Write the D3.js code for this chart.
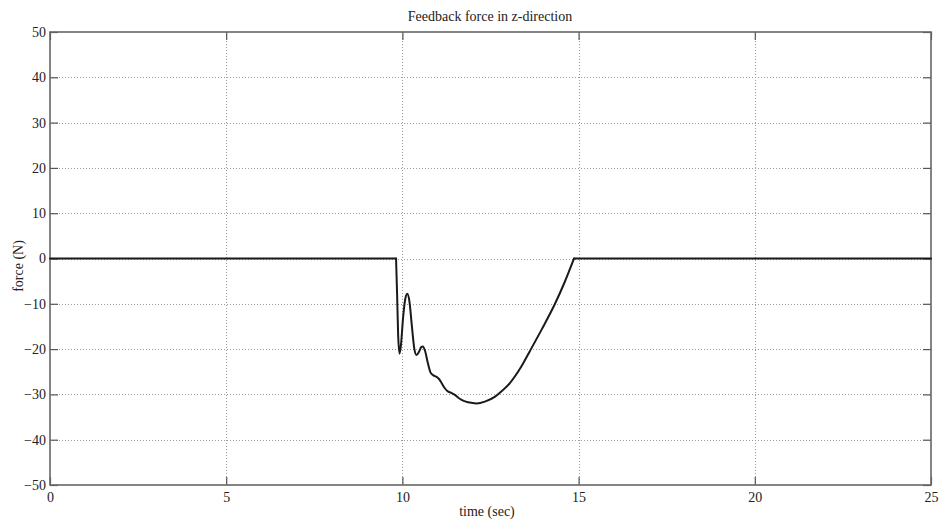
<!DOCTYPE html>
<html>
<head>
<meta charset="utf-8">
<script src="https://cdn.jsdelivr.net/npm/d3@7"></script>
<style>
  html, body { margin: 0; padding: 0; background: #fff; }
  svg { display: block; }
  text { font-family: "Liberation Serif", "Times New Roman", serif; fill: #222; }
</style>
</head>
<body>
<svg id="chart" width="940" height="521"></svg>
<script>
// Feedback force in z-direction, sampled time (s) and force (N)
const timeSec = [0, 9.82, 9.85, 9.88, 9.92, 9.96, 10.02, 10.08, 10.14, 10.20, 10.27, 10.34, 10.40,
  10.47, 10.53, 10.58, 10.64, 10.72, 10.80, 10.88, 10.96, 11.04, 11.12, 11.21, 11.30, 11.40,
  11.49, 11.58, 11.68, 11.80, 11.92, 12.11, 12.34, 12.63, 12.77, 13.05, 13.34, 13.62, 13.95,
  14.33, 14.6, 14.87, 25];
const forceN = [0, 0, -8, -17, -21, -19, -13, -9, -7.8, -9.5, -15, -20, -21.3,
  -20.6, -19.6, -19.4, -20.3, -23, -25.2, -25.8, -26.1, -26.6, -27.6, -28.7, -29.4, -29.7,
  -30.1, -30.7, -31.2, -31.6, -31.8, -32, -31.6, -30.5, -29.6, -27.5, -24.3, -20.4, -15.7,
  -10, -5.3, 0, 0];

// contact interval: the force is non-zero between these times
const contactStart = 9.82;
const contactEnd = 14.87;

const xTicks = [0, 5, 10, 15, 20, 25];
const yTicks = [-50, -40, -30, -20, -10, 0, 10, 20, 30, 40, 50];

const chartTitle = "Feedback force in z-direction";
const xLabel = "time (sec)";
const yLabel = "force (N)";

const svg = d3.select("#chart");
const plotL = 50, plotR = 931, plotT = 32, plotB = 485;

const x = d3.scaleLinear().domain([0, 25]).range([plotL, plotR]);
const y = d3.scaleLinear().domain([-50, 50]).range([plotB, plotT]);

// dotted grid
const grid = svg.append("g").attr("stroke", "#9a9a9a").attr("stroke-width", 1)
  .attr("stroke-dasharray", "1,2");
grid.selectAll("line.gx").data(xTicks.slice(1, -1)).join("line")
  .attr("x1", d => Math.round(x(d)) + 0.5).attr("x2", d => Math.round(x(d)) + 0.5)
  .attr("y1", plotT).attr("y2", plotB);
grid.selectAll("line.gy").data(yTicks.slice(1, -1)).join("line")
  .attr("y1", d => Math.round(y(d)) + 0.5).attr("y2", d => Math.round(y(d)) + 0.5)
  .attr("x1", plotL).attr("x2", plotR);

// axes with inward ticks
function styleAxis(g) {
  g.select(".domain").remove();
  g.selectAll(".tick line").attr("stroke", "#555").attr("stroke-width", 1.2);
  g.selectAll(".tick text").style("font-size", "14px").attr("fill", "#222");
}
svg.append("g").attr("transform", `translate(0,${plotB})`)
  .call(d3.axisBottom(x).tickValues(xTicks).tickSize(-8).tickPadding(3))
  .call(styleAxis)
  .call(g => g.selectAll(".tick text").attr("dy", "1.0em"));
svg.append("g").attr("transform", `translate(0,${plotT})`)
  .call(d3.axisTop(x).tickValues(xTicks).tickSize(-8).tickFormat(""))
  .call(styleAxis);
svg.append("g").attr("transform", `translate(${plotL},0)`)
  .call(d3.axisLeft(y).tickValues(yTicks).tickSize(-8).tickPadding(4))
  .call(styleAxis);
svg.append("g").attr("transform", `translate(${plotR},0)`)
  .call(d3.axisRight(y).tickValues(yTicks).tickSize(-8).tickFormat(""))
  .call(styleAxis);

// frame
svg.append("rect").attr("x", plotL).attr("y", plotT)
  .attr("width", plotR - plotL).attr("height", plotB - plotT)
  .attr("fill", "none").attr("stroke", "#666").attr("stroke-width", 1.6);

// force curve: flat before contact, smooth during contact, flat after
const pts = timeSec.map((t, i) => [t, forceN[i]]);
const pieces = [
  pts.filter(d => d[0] <= contactStart),
  pts.filter(d => d[0] >= contactStart && d[0] <= contactEnd),
  pts.filter(d => d[0] >= contactEnd)
];
const line = d3.line().x(d => x(d[0])).y(d => y(d[1])).curve(d3.curveMonotoneX);
svg.append("g").selectAll("path").data(pieces).join("path")
  .attr("d", line)
  .attr("fill", "none").attr("stroke", "#1a1a1a").attr("stroke-width", 2)
  .attr("stroke-linejoin", "round").attr("stroke-linecap", "round");

// labels
svg.append("text").attr("x", 490).attr("y", 21)
  .attr("text-anchor", "middle").style("font-size", "14px").text(chartTitle);
svg.append("text").attr("x", 487).attr("y", 516)
  .attr("text-anchor", "middle").style("font-size", "14px").text(xLabel);
svg.append("text").attr("transform", "translate(23,266) rotate(-90)")
  .attr("text-anchor", "middle").style("font-size", "14px").text(yLabel);
</script>
</body>
</html>
